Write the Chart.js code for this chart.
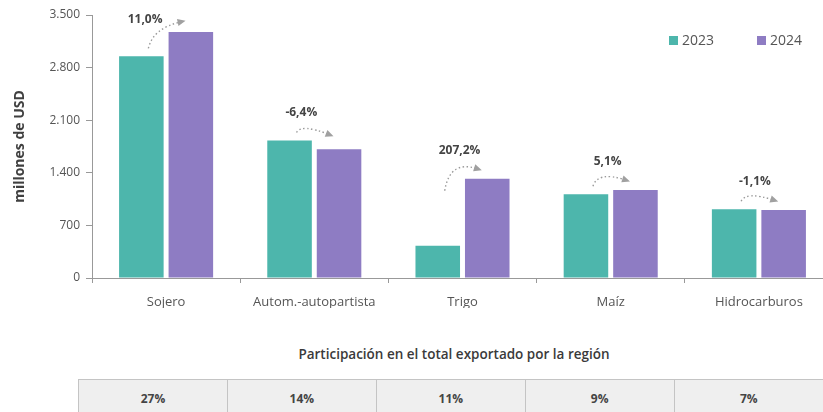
<!DOCTYPE html>
<html>
<head>
<meta charset="utf-8">
<script src="https://cdn.jsdelivr.net/npm/chart.js@4.4.1/dist/chart.umd.min.js"></script>
<style>
  html, body { margin: 0; padding: 0; background: #fff; overflow: hidden; width: 823px; height: 412px; }
  #wrap { position: absolute; left: 0; top: 0; width: 845px; height: 320px; }
  #shareTitle {
    position: absolute; left: 0; width: 908px; top: 345px; text-align: center;
    font: 600 13.5px "Open Sans", sans-serif; color: #3a3a3a;
  }
  #shareTable {
    position: absolute; left: 78px; top: 379px; border-collapse: collapse;
  }
  #shareTable td {
    width: 150px; height: 38px; padding: 0; box-sizing: border-box;
    background: #efefef; border-top: 1.5px solid #c4c4c4; border-left: 1.5px solid #c4c4c4;
    text-align: center; vertical-align: middle;
    font: 700 12px "Open Sans", sans-serif; color: #444;
  }
</style>
</head>
<body>
<div id="wrap"><canvas id="exportChart"></canvas></div>
<div id="shareTitle">Participación en el total exportado por la región</div>
<table id="shareTable"><tr id="shareRow"></tr></table>
<script>
const categories = ["Sojero", "Autom.-autopartista", "Trigo", "Maíz", "Hidrocarburos"];
const values2023 = [2950, 1830, 430, 1115, 915];
const values2024 = [3275, 1713, 1321, 1172, 905];
const changeLabels = ["11,0%", "-6,4%", "207,2%", "5,1%", "-1,1%"];
const shareLabels = ["27%", "14%", "11%", "9%", "7%"];
const yTicks = [0, 700, 1400, 2100, 2800, 3500];

const teal = "#4db6ac";
const purple = "#8e7cc3";
const textGray = "#555";

// share row under the chart
const shareRow = document.getElementById("shareRow");
shareLabels.forEach((s) => {
  const td = document.createElement("td");
  td.textContent = s;
  shareRow.appendChild(td);
});

function formatThousands(v) {
  return String(v).replace(/\B(?=(\d{3})+(?!\d))/g, ".");
}

// shift of the % label from the category centre, so it clears the arrow
const labelShift = [-21, -13, -3, -3, -4];

const changeArrowsPlugin = {
  id: "changeArrows",
  afterDatasetsDraw(chart) {
    const { ctx } = chart;
    const m0 = chart.getDatasetMeta(0).data;
    const m1 = chart.getDatasetMeta(1).data;
    ctx.save();
    changeLabels.forEach((lbl, i) => {
      const a = m0[i], b = m1[i];
      const maxTop = Math.min(a.y, b.y);
      const labelY = Math.max(20, maxTop - 28);
      const cx = (a.x + b.x) / 2 + labelShift[i];

      const sx = a.x + 7;
      const sy = Math.min(a.y - 8, labelY + 40);
      const ex = b.x - 10;
      const ey = Math.min(b.y - 10, labelY + 22);
      const qx = sx + (ex - sx) * 0.15;
      const qy = Math.max(labelY + 8, Math.min(sy, ey) - 9);

      ctx.beginPath();
      ctx.setLineDash([1.5, 2.5]);
      ctx.strokeStyle = "#9a9a9a";
      ctx.lineWidth = 1.4;
      ctx.moveTo(sx, sy);
      ctx.quadraticCurveTo(qx, qy, ex, ey);
      ctx.stroke();
      ctx.setLineDash([]);

      const ang = Math.atan2(ey - qy, ex - qx);
      const s = 8;
      ctx.beginPath();
      ctx.fillStyle = "#a0a0a0";
      ctx.moveTo(ex + Math.cos(ang) * s * 0.6, ey + Math.sin(ang) * s * 0.6);
      ctx.lineTo(ex + Math.cos(ang + 2.3) * s * 0.6, ey + Math.sin(ang + 2.3) * s * 0.6);
      ctx.lineTo(ex + Math.cos(ang - 2.3) * s * 0.6, ey + Math.sin(ang - 2.3) * s * 0.6);
      ctx.closePath();
      ctx.fill();

      ctx.fillStyle = "#444";
      ctx.font = "bold 12px 'Open Sans', sans-serif";
      ctx.textAlign = "center";
      ctx.textBaseline = "middle";
      ctx.fillText(lbl, cx, labelY);
    });

    // legend, top right
    ctx.font = "14px 'Open Sans', sans-serif";
    ctx.textAlign = "left";
    ctx.textBaseline = "middle";
    const legendX = [669, 757];
    chart.data.datasets.forEach((ds, i) => {
      ctx.fillStyle = ds.backgroundColor;
      ctx.fillRect(legendX[i], 36, 9, 9);
      ctx.fillStyle = textGray;
      ctx.fillText(ds.label, legendX[i] + 13, 41);
    });
    ctx.restore();
  }
};

new Chart(document.getElementById("exportChart"), {
  type: "bar",
  data: {
    labels: categories,
    datasets: [
      { label: "2023", data: values2023, backgroundColor: teal },
      { label: "2024", data: values2024, backgroundColor: purple }
    ]
  },
  options: {
    responsive: true,
    maintainAspectRatio: false,
    animation: false,
    events: [],
    datasets: { bar: { barPercentage: 0.9, categoryPercentage: 0.668 } },
    layout: { padding: { top: 15, right: 12, bottom: 12, left: 0 } },
    plugins: { legend: { display: false }, tooltip: { enabled: false } },
    scales: {
      x: {
        grid: { drawOnChartArea: false, drawTicks: true, tickLength: 5, color: "#999" },
        border: { color: "#999", width: 1 },
        ticks: { color: textGray, padding: 11, font: { family: "'Open Sans', sans-serif", size: 13 } },
        afterFit(scale) { scale.height = 30; }
      },
      y: {
        min: 0,
        max: 3500,
        afterBuildTicks(scale) { scale.ticks = yTicks.map((v) => ({ value: v })); },
        grid: { drawOnChartArea: false, drawTicks: true, tickLength: 6, color: "#999" },
        border: { color: "#999", width: 1 },
        ticks: {
          color: textGray, padding: 6,
          font: { family: "'Open Sans', sans-serif", size: 12 },
          callback: (v) => formatThousands(v)
        },
        title: {
          display: true, text: "millones de USD", color: "#404040",
          font: { family: "'Open Sans', sans-serif", size: 14, weight: "bold" },
          padding: { top: 12, bottom: 0 }
        },
        afterFit(scale) { scale.width = 92; }
      }
    }
  },
  plugins: [changeArrowsPlugin]
});
</script>
</body>
</html>
